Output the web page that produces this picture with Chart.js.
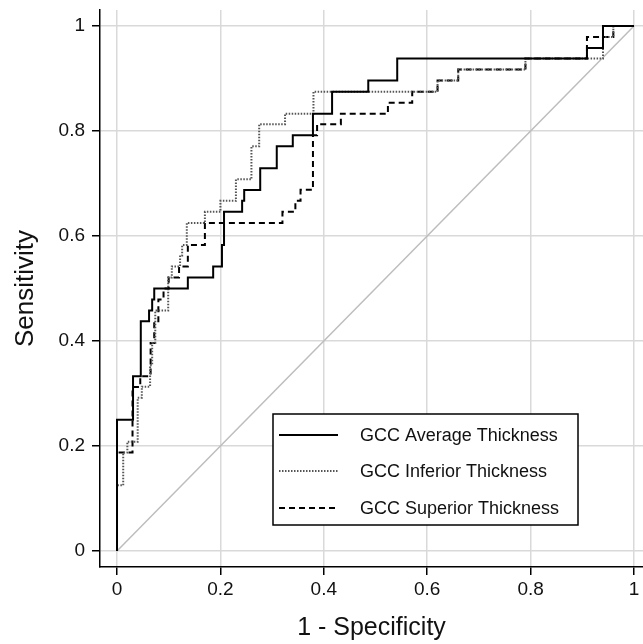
<!DOCTYPE html>
<html><head><meta charset="utf-8">
<script src="https://cdn.jsdelivr.net/npm/chart.js@4/dist/chart.umd.min.js"></script>
<style>html,body{margin:0;padding:0;background:#fff;}#wrap{width:643px;height:644px;}</style>
</head><body><div id="wrap"><canvas id="c" width="643" height="644"></canvas></div>
<script>
const seriesNames = ['GCC Average Thickness', 'GCC Inferior Thickness', 'GCC Superior Thickness'];

const avgFpr = [0, 0, 0.031, 0.046, 0.062, 0.068, 0.072, 0.137, 0.186, 0.203, 0.207, 0.242, 0.246, 0.277, 0.309, 0.340, 0.379, 0.416, 0.486, 0.542, 0.909, 0.940, 1];
const avgTpr = [0, 0.25, 0.333, 0.4375, 0.458, 0.479, 0.5, 0.521, 0.542, 0.583, 0.646, 0.667, 0.6875, 0.729, 0.771, 0.792, 0.833, 0.875, 0.896, 0.938, 0.958, 1, 1];

const infFpr = [0, 0, 0.012, 0.02, 0.04, 0.048, 0.064, 0.068, 0.074, 0.099, 0.106, 0.122, 0.126, 0.135, 0.17, 0.2, 0.23, 0.26, 0.275, 0.325, 0.38, 0.62, 0.66, 0.79, 0.94, 0.96, 1];
const infTpr = [0, 0.125, 0.1875, 0.208, 0.292, 0.313, 0.354, 0.396, 0.458, 0.521, 0.542, 0.563, 0.583, 0.625, 0.646, 0.667, 0.708, 0.771, 0.813, 0.833, 0.875, 0.896, 0.917, 0.938, 0.979, 1, 1];

const supFpr = [0, 0, 0.03, 0.045, 0.065, 0.072, 0.08, 0.09, 0.1, 0.12, 0.137, 0.17, 0.32, 0.345, 0.355, 0.379, 0.387, 0.433, 0.524, 0.571, 0.62, 0.66, 0.79, 0.909, 0.96, 1];
const supTpr = [0, 0.1875, 0.3125, 0.333, 0.396, 0.4375, 0.479, 0.5, 0.521, 0.542, 0.583, 0.625, 0.646, 0.667, 0.688, 0.792, 0.813, 0.833, 0.854, 0.875, 0.896, 0.917, 0.938, 0.979, 1, 1];

const diagX = [0, 1];
const diagY = [0, 1];

const tickValues = [0, 0.2, 0.4, 0.6, 0.8, 1];
const tickLabels = ['0', '0.2', '0.4', '0.6', '0.8', '1'];

const pts = (xs, ys) => xs.map((x, i) => ({x: x, y: ys[i]}));
const FONT = '"Liberation Sans", Arial, Helvetica, sans-serif';

const boxLegend = {
  id: 'boxLegend',
  afterDatasetsDraw(chart) {
    const ctx = chart.ctx;
    const L = 273, T = 414, R = 578, B = 525;
    ctx.save();
    ctx.fillStyle = '#fff';
    ctx.fillRect(L, T, R - L, B - T);
    ctx.strokeStyle = '#000';
    ctx.lineWidth = 1.5;
    ctx.setLineDash([]);
    ctx.strokeRect(L, T, R - L, B - T);
    const rows = [435, 471, 508];
    for (let i = 0; i < 3; i++) {
      const ds = chart.data.datasets[i];
      ctx.beginPath();
      ctx.strokeStyle = ds.borderColor;
      ctx.lineWidth = ds.borderWidth;
      ctx.setLineDash(ds.borderDash || []);
      ctx.moveTo(279, rows[i]);
      ctx.lineTo(338, rows[i]);
      ctx.stroke();
      ctx.setLineDash([]);
      ctx.fillStyle = '#111';
      ctx.font = '18px ' + FONT;
      ctx.textBaseline = 'middle';
      ctx.textAlign = 'left';
      ctx.fillText(ds.label, 360, rows[i] + 1);
    }
    ctx.restore();
  }
};

const axisCommon = (title, fitFn, titlePad, titleSize) => ({
  type: 'linear',
  afterBuildTicks: s => { s.ticks = tickValues.map(v => ({value: v})); },
  afterFit: fitFn,
  ticks: {
    callback: (v, i) => tickLabels[i],
    font: {family: FONT, size: 19},
    color: '#111',
    autoSkip: false,
    maxRotation: 0,
    padding: 5
  },
  grid: {color: '#d9d9d9', lineWidth: 1.5, tickColor: '#000', tickLength: 8, tickWidth: 1.5},
  border: {display: true, color: '#000', width: 1.5},
  title: {display: true, text: title, font: {family: FONT, size: titleSize}, color: '#111', padding: titlePad}
});

const xScale = axisCommon('1 - Specificity', s => { s.height = 77; }, {top: 0, bottom: 1}, 25);
xScale.min = -0.0329; xScale.max = 1.0174; xScale.ticks.padding = 3;
const yScale = axisCommon('Sensitivity', s => { s.width = 100; s.paddingTop = 0; s.paddingBottom = 0; }, {top: 10, bottom: 0}, 26);
yScale.min = -0.0305; yScale.max = 1.0305; yScale.ticks.padding = 7;

new Chart(document.getElementById('c'), {
  type: 'line',
  data: {
    datasets: [
      {label: seriesNames[0], data: pts(avgFpr, avgTpr), stepped: 'before', borderColor: '#000', borderWidth: 2, pointRadius: 0, fill: false},
      {label: seriesNames[1], data: pts(infFpr, infTpr), stepped: 'before', borderColor: '#555', borderWidth: 2, borderDash: [1.5, 1.5], pointRadius: 0, fill: false},
      {label: seriesNames[2], data: pts(supFpr, supTpr), stepped: 'before', borderColor: '#000', borderWidth: 2, borderDash: [6, 4], pointRadius: 0, fill: false},
      {label: 'reference', data: pts(diagX, diagY), borderColor: '#bdbdbd', borderWidth: 1.5, pointRadius: 0, fill: false}
    ]
  },
  options: {
    responsive: false,
    devicePixelRatio: 1,
    animation: false,
    layout: {padding: {top: 10, right: 0, bottom: 0, left: 0}},
    plugins: {legend: {display: false}, tooltip: {enabled: false}},
    scales: {x: xScale, y: yScale}
  },
  plugins: [boxLegend]
});
</script></body></html>
